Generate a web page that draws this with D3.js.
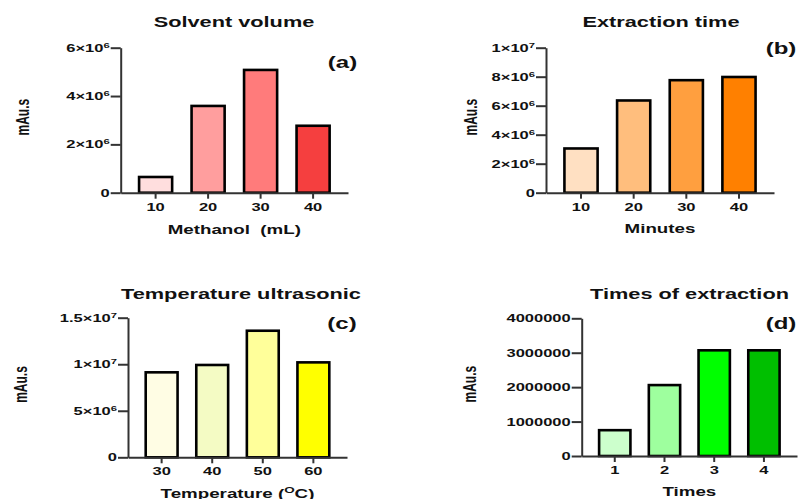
<!DOCTYPE html>
<html>
<head>
<meta charset="utf-8">
<script src="https://cdn.jsdelivr.net/npm/d3@7"></script>
<style>
  body { margin: 0; background: #fff; }
  svg { display: block; }
  text { font-family: "Liberation Sans", Arial, sans-serif; font-weight: bold; fill: #111; white-space: pre; }
</style>
</head>
<body>
<div id="chart"></div>
<script>
// data
const volumeCats = ["10", "20", "30", "40"];
const volumeVals = [650000, 3590000, 5080000, 2770000];
const volumeColors = ["#FFDEDE", "#FF9E9E", "#FF7B7B", "#F53F3F"];

const timeCats = ["10", "20", "30", "40"];
const timeVals = [3050000, 6360000, 7760000, 7980000];
const timeColors = ["#FFE0C2", "#FFBE7D", "#FF9F3F", "#FF8000"];

const tempCats = ["30", "40", "50", "60"];
const tempVals = [9130000, 9920000, 13600000, 10200000];
const tempColors = ["#FFFDE4", "#F4FBC4", "#FFFF9A", "#FFFF00"];

const timesCats = ["1", "2", "3", "4"];
const timesVals = [750000, 2060000, 3070000, 3070000];
const timesColors = ["#CCFFCC", "#9EFF9E", "#00FF00", "#00BF00"];

const volumeTicks = [0, 2e6, 4e6, 6e6];
const timeTicks = [0, 2e6, 4e6, 6e6, 8e6, 1e7];
const tempTicks = [0, 5e6, 1e7, 1.5e7];
const timesTicks = [0, 1e6, 2e6, 3e6, 4e6];

const W = 798, H = 499;
const SX = 1.5; // the figure is stretched sideways

const svg = d3.select("#chart").append("svg")
    .attr("width", W)
    .attr("height", H);

// text placed at (x,y), stretched sideways around its anchor
let label = function (x, y, size, txt, rotate) {
    let g = svg.append("g")
        .attr("transform", `translate(${x},${y}) scale(${SX},1)` + (rotate ? " rotate(-90)" : ""));
    let t = g.append("text")
        .attr("text-anchor", "middle")
        .attr("font-size", size);
    if (rotate) t.attr("dy", "0.35em");
    return t.text(txt);
}

let sciParts = function (v) {
    if (v === 0) return null;
    let e = Math.floor(Math.log10(v) + 1e-9);
    let m = +(v / Math.pow(10, e)).toFixed(2);
    return { m: String(m), e: String(e) };
}

const drawPanel = (p) => {
    const x = d3.scaleBand()
        .domain(p.cats)
        .range([p.left, p.right])
        .paddingInner(0.37)
        .paddingOuter(0.35);
    const y = d3.scaleLinear()
        .domain([0, p.max])
        .range([p.bottom, p.top]);

    // bars
    svg.append("g")
        .selectAll("rect")
        .data(p.vals)
        .enter()
        .append("rect")
        .attr("x", (d, i) => x(p.cats[i]))
        .attr("y", d => y(d))
        .attr("width", x.bandwidth())
        .attr("height", d => y(0) - y(d))
        .attr("fill", (d, i) => p.colors[i])
        .attr("stroke", "#000")
        .attr("stroke-width", 2.6);

    // y axis
    const ya = svg.append("g")
        .attr("transform", `translate(${p.left},0)`)
        .call(d3.axisLeft(y).tickValues(p.ticks).tickSize(10).tickSizeOuter(0).tickPadding(1));
    ya.selectAll("text")
        .attr("font-size", 11)
        .attr("x", -11 / SX)
        .attr("transform", `scale(${SX},1)`)
        .each(function (d) {
            let t = d3.select(this);
            t.text(null);
            let s = p.sci ? sciParts(d) : null;
            if (!s) {
                t.text(d3.format("d")(d));
            } else {
                t.append("tspan").text(s.m + "×10");
                t.append("tspan").attr("font-size", 7.5).attr("dy", -4).text(s.e);
            }
        });

    // x axis
    const xa = svg.append("g")
        .attr("transform", `translate(0,${p.bottom})`)
        .call(d3.axisBottom(x).tickSize(6).tickSizeOuter(0).tickPadding(6));
    xa.selectAll(".tick").each(function (d) {
        d3.select(this).select("text").remove();
        d3.select(this).append("g")
            .attr("transform", `scale(${SX},1)`)
            .append("text")
            .attr("text-anchor", "middle")
            .attr("font-size", 11)
            .attr("y", 18)
            .text(d);
    });

    svg.selectAll(".domain, .tick line")
        .attr("stroke", "#333")
        .attr("stroke-width", 2);

    label(p.titleX, p.titleY, 14.5, p.title);
    label(p.tagX, p.tagY, 16, p.tag);
    label(p.ylabX, (p.top + p.bottom) / 2 - 3, 12, "mAu.s", true);
    let xl = label((p.left + p.right) / 2, p.xlabY, 12.5, p.xlab);
    if (p.xlabSup) {
        xl.text(null);
        xl.append("tspan").text("Temperature (");
        xl.append("tspan").attr("font-size", 9).attr("dy", -5).text("O");
        xl.append("tspan").attr("dy", 5).text("C)");
    }
}

drawPanel({
    cats: volumeCats, vals: volumeVals, colors: volumeColors, ticks: volumeTicks, max: 6e6, sci: true,
    left: 120.7, right: 348, top: 47.7, bottom: 192.7,
    title: "Solvent volume", titleX: 234, titleY: 27,
    tag: "(a)", tagX: 342.5, tagY: 68,
    ylabX: 23, xlab: "Methanol  (mL)", xlabY: 234
});

drawPanel({
    cats: timeCats, vals: timeVals, colors: timeColors, ticks: timeTicks, max: 1e7, sci: true,
    left: 546, right: 774, top: 47.7, bottom: 192.7,
    title: "Extraction time", titleX: 661, titleY: 27,
    tag: "(b)", tagX: 781, tagY: 54,
    ylabX: 471, xlab: "Minutes", xlabY: 233
});

drawPanel({
    cats: tempCats, vals: tempVals, colors: tempColors, ticks: tempTicks, max: 1.5e7, sci: true,
    left: 128, right: 347, top: 317.7, bottom: 457.3,
    title: "Temperature ultrasonic", titleX: 241, titleY: 299,
    tag: "(c)", tagX: 342, tagY: 329,
    ylabX: 21, xlab: "Temperature (°C)", xlabSup: true, xlabY: 498
});

drawPanel({
    cats: timesCats, vals: timesVals, colors: timesColors, ticks: timesTicks, max: 4e6, sci: false,
    left: 581.7, right: 797, top: 318.3, bottom: 456,
    title: "Times of extraction", titleX: 689.5, titleY: 299,
    tag: "(d)", tagX: 781, tagY: 329,
    ylabX: 470, xlab: "Times", xlabY: 496
});
</script>
</body>
</html>
